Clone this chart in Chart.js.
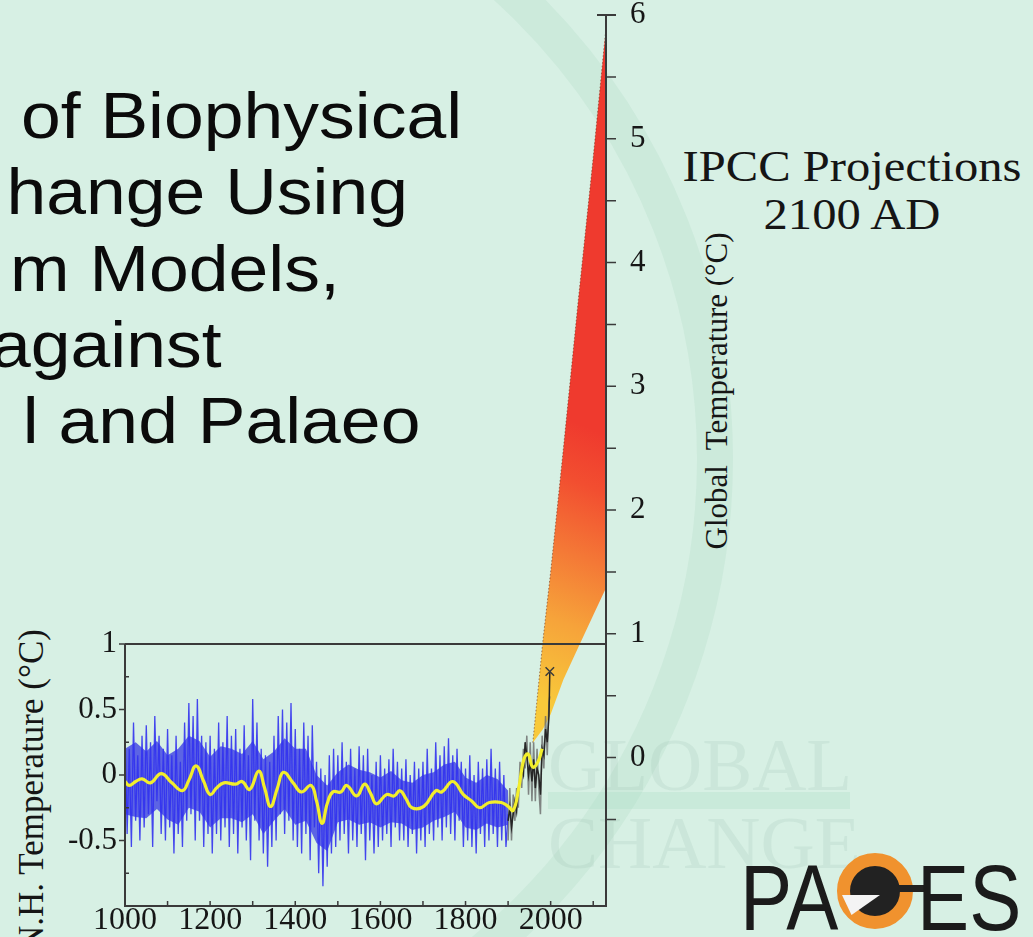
<!DOCTYPE html>
<html>
<head>
<meta charset="utf-8">
<title>N.H. temperature and IPCC projections</title>
<script src="https://cdn.jsdelivr.net/npm/chart.js@4.4.1/dist/chart.umd.min.js"></script>
<style>
  html, body { margin: 0; padding: 0; }
  body { width: 1033px; height: 937px; overflow: hidden; position: relative; background: #d7f0e4; }
  .abs { position: absolute; white-space: nowrap; line-height: 1; }
  #arc { left: -579px; top: -197px; width: 1312px; height: 1312px; border-radius: 50%;
         border: 36px solid rgba(160, 210, 186, 0.2); box-sizing: border-box; }
  .title { font-family: "Liberation Sans", Arial, sans-serif; font-size: 65px; color: #0b0b0b;
           transform: scaleX(1.1); transform-origin: right center; }
  .serif { font-family: "Liberation Serif", "Times New Roman", serif; color: #151515; }
  .ipcc { font-size: 45px; transform: translateX(-50%) scaleX(1.08); }
  .vtitle { transform: translate(-50%, -50%) rotate(-90deg); }
  .wm { font-family: "Liberation Serif", serif; font-size: 75px; color: rgba(150, 190, 170, 0.18); }
  .logo { font-family: "Liberation Sans", Arial, sans-serif; font-size: 92px; color: #1b1b1b;
          transform: scaleX(0.85); transform-origin: left center; }
  #chart { position: absolute; left: 0; top: 0; }
</style>
</head>
<body>
<div id="arc" class="abs"></div>

<div class="abs wm" style="left:548px; top:727px;">GLOBAL</div>
<div class="abs" style="left:548px; top:792px; width:302px; height:17px; background:rgba(170,222,195,0.3);"></div>
<div class="abs wm" style="left:548px; top:805px;">CHANGE</div>

<div class="abs title" style="right:571px; top:83px;">of Biophysical</div>
<div class="abs title" style="right:625px; top:159px;">hange Using</div>
<div class="abs title" style="right:693px; top:236px;">m Models,</div>
<div class="abs title" style="right:811px; top:312px;">against</div>
<div class="abs title" style="right:613px; top:388px;">l and Palaeo</div>

<div class="abs serif ipcc" style="left:852px; top:144px;">IPCC Projections</div>
<div class="abs serif ipcc" style="left:852px; top:192px;">2100 AD</div>

<div class="abs serif vtitle" style="left:716px; top:391px; font-size:31px;">Global&nbsp; Temperature (°C)</div>
<div class="abs serif vtitle" style="left:31px; top:790px; font-size:35px;">N.H. Temperature (°C)</div>

<div class="abs logo" style="left:740px; top:852px;">PA</div>
<div class="abs" style="left:837px; top:853px; width:76px; height:76px; border-radius:50%; background:#222; border:13px solid #f0922e; box-sizing:border-box;"></div>
<div class="abs" style="left:872px; top:885px; width:58px; height:7px; background:#222;"></div>
<div class="abs" style="left:842px; top:895px; width:38px; height:20px; background:#f4f4f4; clip-path:polygon(0 0, 100% 0, 25% 100%);"></div>
<div class="abs logo" style="left:917px; top:852px;">ES</div>

<canvas id="chart" width="1033" height="937"></canvas>

<script>
// N.H. reconstruction, sampled every 5 years from 1000 (°C)
const blueStart = 1000;
const blueStep = 5;
const blueValues = [
  0.35, -0.45, 0.2, -0.55, 0.4, -0.35, 0.15, -0.5, 0.3, -0.4,
  0.38, -0.3, 0.25, -0.55, 0.45, -0.2, 0.3, -0.45, 0.2, -0.5,
  0.35, -0.4, 0.15, -0.6, 0.3, -0.45, 0.1, -0.55, 0.4, -0.35,
  0.55, -0.3, 0.45, -0.5, 0.58, -0.35, 0.3, -0.55, 0.25, -0.45,
  0.3, -0.6, 0.2, -0.45, 0.4, -0.5, 0.25, -0.4, 0.45, -0.55,
  0.3, -0.45, 0.35, -0.6, 0.2, -0.4, 0.38, -0.5, 0.15, -0.65,
  0.58, -0.35, 0.4, -0.5, 0.2, -0.6, 0.15, -0.7, 0.1, -0.55,
  0.3, -0.5, 0.45, -0.3, 0.5, -0.45, 0.4, -0.35, 0.55, -0.5,
  0.35, -0.55, 0.2, -0.6, 0.4, -0.45, 0.3, -0.65, 0.38, -0.4,
  0.1, -0.75, 0.05, -0.85, 0.0, -0.7, 0.15, -0.6, 0.2, -0.55,
  0.15, -0.5, 0.25, -0.45, 0.1, -0.6, 0.2, -0.5, 0.05, -0.55,
  0.22, -0.45, 0.15, -0.65, 0.2, -0.5, 0.0, -0.6, 0.1, -0.55,
  0.15, -0.5, 0.05, -0.45, 0.12, -0.55, 0.2, -0.4, 0.1, -0.5,
  0.05, -0.5, 0.12, -0.55, 0.0, -0.45, 0.1, -0.6, 0.05, -0.5,
  0.1, -0.55, 0.2, -0.45, 0.05, -0.5, 0.25, -0.4, 0.15, -0.5,
  0.22, -0.4, 0.28, -0.45, 0.15, -0.5, 0.2, -0.35, 0.1, -0.55,
  0.05, -0.5, 0.15, -0.55, 0.0, -0.6, 0.1, -0.45, 0.05, -0.55,
  0.12, -0.5, 0.2, -0.45, 0.05, -0.55, 0.1, -0.5, 0.0, -0.55,
  -0.3
];

// dense core of the reconstruction, every 25 years
const coreYears = [1000, 1025, 1050, 1075, 1100, 1125, 1150, 1175, 1200, 1225,
  1250, 1275, 1300, 1325, 1350, 1375, 1400, 1425, 1450, 1475,
  1500, 1525, 1550, 1575, 1600, 1625, 1650, 1675, 1700, 1725,
  1750, 1775, 1800, 1825, 1850, 1875, 1900];
const coreHigh = [0.2, 0.25, 0.18, 0.26, 0.15, 0.2, 0.3, 0.26, 0.14, 0.22,
  0.2, 0.16, 0.26, 0.12, 0.18, 0.28, 0.2, 0.2, 0.0, -0.08,
  0.02, 0.08, 0.04, 0.02, -0.02, 0.03, -0.04, -0.06, 0.0, 0.02,
  0.08, 0.1, -0.02, -0.06, 0.0, -0.03, -0.12];
const coreLow = [-0.3, -0.32, -0.33, -0.26, -0.34, -0.38, -0.25, -0.28, -0.4, -0.33,
  -0.33, -0.36, -0.3, -0.45, -0.35, -0.26, -0.38, -0.35, -0.52, -0.58,
  -0.36, -0.34, -0.38, -0.36, -0.4, -0.36, -0.37, -0.42, -0.4, -0.35,
  -0.32, -0.28, -0.4, -0.42, -0.37, -0.4, -0.38];

// 40-year smoothed curve (yellow)
const smoothYears = [1000, 1010, 1025, 1040, 1060, 1085, 1110, 1135, 1150, 1167,
  1185, 1200, 1215, 1232, 1260, 1275, 1293, 1314, 1328, 1342,
  1358, 1372, 1395, 1414, 1437, 1450, 1463, 1475, 1488, 1507,
  1521, 1544, 1563, 1577, 1591, 1614, 1632, 1646, 1660, 1674,
  1702, 1730, 1744, 1770, 1795, 1815, 1833, 1856, 1884, 1900,
  1912, 1925, 1937, 1947, 1958, 1970, 1980];
const smoothValues = [-0.05, -0.08, -0.05, -0.03, -0.06, 0.01, -0.06, -0.12, -0.04, 0.07,
  -0.05, -0.15, -0.1, -0.06, -0.07, -0.05, -0.11, 0.03, -0.1, -0.24,
  -0.1, 0.02, -0.06, -0.13, -0.08, -0.2, -0.37, -0.22, -0.13, -0.13,
  -0.08, -0.16, -0.07, -0.14, -0.22, -0.15, -0.16, -0.12, -0.18, -0.25,
  -0.24, -0.12, -0.13, -0.05, -0.15, -0.2, -0.25, -0.21, -0.21, -0.24,
  -0.27, -0.1, 0.12, 0.16, 0.06, 0.1, 0.2];

// instrumental record (black) and its spread (grey)
const instYears = [1900, 1904, 1908, 1912, 1916, 1920, 1924, 1928, 1932, 1936,
  1940, 1944, 1948, 1952, 1956, 1960, 1964, 1968, 1972, 1976,
  1980, 1984, 1988, 1992, 1996, 1998];
const instValues = [-0.35, -0.25, -0.4, -0.3, -0.2, -0.28, -0.1, -0.05, 0.05, 0.0,
  0.25, 0.15, 0.0, 0.1, -0.05, 0.12, -0.1, 0.05, 0.0, -0.15,
  0.2, 0.15, 0.35, 0.25, 0.45, 0.79];
const instSpread = [-0.5, -0.1, -0.5, -0.15, -0.35, -0.1, -0.25, 0.1, -0.1, 0.2,
  0.05, 0.3, -0.15, 0.25, -0.2, 0.25, -0.2, 0.2, -0.1, -0.3,
  0.3, 0.05, 0.45, 0.15, 0.55, 0.6];

// IPCC projection envelope, global temperature (°C)
const fanYears = [1958, 1982, 2000, 2030, 2065, 2100, 2130];
const fanHigh = [0.12, 0.95, 1.5, 2.5, 3.7, 4.85, 5.9];
const fanLow = [0.12, 0.23, 0.35, 0.63, 0.89, 1.15, 1.37];

// axis ticks
const yearTicks = [1000, 1200, 1400, 1600, 1800, 2000];
const yearMinor = [1100, 1200, 1300, 1400, 1500, 1600, 1700, 1800, 1900, 2000, 2100];
const nhTicks = [1, 0.5, 0, -0.5];
const nhMinor = [0.75, 0.25, -0.25, -0.75];
const globalTicks = [0, 1, 2, 3, 4, 5, 6];
const globalMinor = [-0.5, 0, 0.5, 1, 1.5, 2, 2.5, 3, 3.5, 4, 4.5, 5, 5.5];

const serif = '"Liberation Serif", "Times New Roman", serif';
const ink = '#3a3a3a';

const pts = (xs, ys) => xs.map((x, i) => ({ x: x, y: ys[i] }));
const fixTicks = list => scale => { scale.ticks = list.map(v => ({ value: v })); };

function fanGradient(c) {
  const chart = c.chart;
  if (!chart.chartArea) return '#f05a30';
  const x = chart.scales.x, yG = chart.scales.yG;
  const g = chart.ctx.createLinearGradient(
    x.getPixelForValue(1950), yG.getPixelForValue(0.5),
    x.getPixelForValue(2200), yG.getPixelForValue(2.5));
  g.addColorStop(0, '#f8c93a');
  g.addColorStop(0.3, '#f6a33a');
  g.addColorStop(0.55, '#f47836');
  g.addColorStop(0.8, '#f24e30');
  g.addColorStop(1, '#ef3a2e');
  return g;
}

// box, axis lines and tick marks
const frame = {
  id: 'frame',
  afterDatasetsDraw(chart) {
    const { ctx } = chart;
    const { x, yL, yG } = chart.scales;
    const left = x.getPixelForValue(x.min), right = x.getPixelForValue(x.max);
    const top = yL.getPixelForValue(1), bottom = yL.getPixelForValue(-1);
    const capY = yG.getPixelForValue(6);
    ctx.save();
    ctx.strokeStyle = ink;
    ctx.lineWidth = 2;
    ctx.beginPath();
    ctx.moveTo(left, top); ctx.lineTo(right, top);
    ctx.moveTo(left, top); ctx.lineTo(left, bottom); ctx.lineTo(right, bottom); ctx.lineTo(right, capY);
    ctx.moveTo(right - 9, capY); ctx.lineTo(right + 10, capY);
    ctx.stroke();
    ctx.lineWidth = 1.5;
    ctx.beginPath();
    yearMinor.forEach(v => { const p = x.getPixelForValue(v); ctx.moveTo(p, bottom); ctx.lineTo(p, bottom - 5); });
    nhTicks.forEach(v => { const p = yL.getPixelForValue(v); ctx.moveTo(left, p); ctx.lineTo(left - 6, p); });
    nhMinor.forEach(v => { const p = yL.getPixelForValue(v); ctx.moveTo(left, p); ctx.lineTo(left + 4, p); });
    globalMinor.forEach(v => { const p = yG.getPixelForValue(v); ctx.moveTo(right, p); ctx.lineTo(right + 10, p); });
    ctx.stroke();
    ctx.restore();
  }
};

new Chart(document.getElementById('chart'), {
  type: 'line',
  data: {
    datasets: [
      { label: 'smoothed', data: pts(smoothYears, smoothValues), yAxisID: 'yL',
        borderColor: '#f2ee2c', borderWidth: 3.2, tension: 0.45, pointRadius: 0, order: 1 },
      { label: 'instrumental', data: pts(instYears, instValues), yAxisID: 'yL',
        borderColor: '#262626', borderWidth: 1.5, pointStyle: 'crossRot',
        pointRadius: c => (c.dataIndex === instYears.length - 1 ? 6 : 0),
        pointBorderColor: ink, pointBorderWidth: 1.5, order: 2 },
      { label: 'instrumental spread', data: pts(instYears, instSpread), yAxisID: 'yL',
        borderColor: 'rgba(105,105,105,0.8)', borderWidth: 1.5, pointRadius: 0, order: 3 },
      { label: 'reconstruction', data: blueValues.map((v, i) => ({ x: blueStart + i * blueStep, y: v })),
        yAxisID: 'yL', borderColor: 'rgba(50,50,238,0.9)', borderWidth: 1.3, pointRadius: 0, order: 4 },
      { label: 'core high', data: pts(coreYears, coreHigh), yAxisID: 'yL',
        borderColor: 'rgba(0,0,0,0)', borderWidth: 0, pointRadius: 0,
        fill: '+1', backgroundColor: 'rgba(40,40,228,0.7)', order: 5 },
      { label: 'core low', data: pts(coreYears, coreLow), yAxisID: 'yL',
        borderColor: 'rgba(0,0,0,0)', borderWidth: 0, pointRadius: 0, order: 6 },
      { label: 'IPCC high', data: pts(fanYears, fanHigh), yAxisID: 'yG',
        borderColor: 'rgba(110,50,25,0.6)', borderWidth: 1, borderDash: [1.5, 2], pointRadius: 0,
        fill: '+1', backgroundColor: fanGradient, order: 7 },
      { label: 'IPCC low', data: pts(fanYears, fanLow), yAxisID: 'yG',
        borderColor: 'rgba(0,0,0,0)', borderWidth: 0, pointRadius: 0, order: 8 }
    ]
  },
  options: {
    responsive: false,
    animation: false,
    events: [],
    layout: { padding: { top: 15, left: 0, right: 0, bottom: 0 } },
    plugins: { legend: { display: false }, tooltip: { enabled: false } },
    scales: {
      x: {
        type: 'linear', min: 1000, max: 2130,
        afterBuildTicks: fixTicks(yearTicks),
        afterFit(s) { s.height = 31; s.paddingLeft = 0; s.paddingRight = 0; },
        grid: { display: false, drawTicks: false },
        border: { display: false },
        ticks: { padding: 0, maxRotation: 0, autoSkip: false, color: '#161616',
                 font: { family: serif, size: 32, lineHeight: 0.9 }, callback: v => String(v) }
      },
      yL: {
        position: 'left', min: -1, max: 5.8,
        afterBuildTicks: fixTicks(nhTicks),
        afterFit(s) { s.width = 125; s.paddingTop = 0; s.paddingBottom = 0; },
        grid: { display: false, drawTicks: false },
        border: { display: false },
        ticks: { padding: 8, color: '#161616', font: { family: serif, size: 31, lineHeight: 0.9 },
                 callback: v => String(v) }
      },
      yG: {
        position: 'right', min: -1.2, max: 6,
        afterBuildTicks: fixTicks(globalTicks),
        afterFit(s) { s.width = 427; s.paddingTop = 0; s.paddingBottom = 0; },
        grid: { display: false, drawTicks: false },
        border: { display: false },
        ticks: { padding: 24, color: '#161616', font: { family: serif, size: 31, lineHeight: 0.9 },
                 callback: v => String(v) }
      }
    }
  },
  plugins: [frame]
});
</script>
</body>
</html>
